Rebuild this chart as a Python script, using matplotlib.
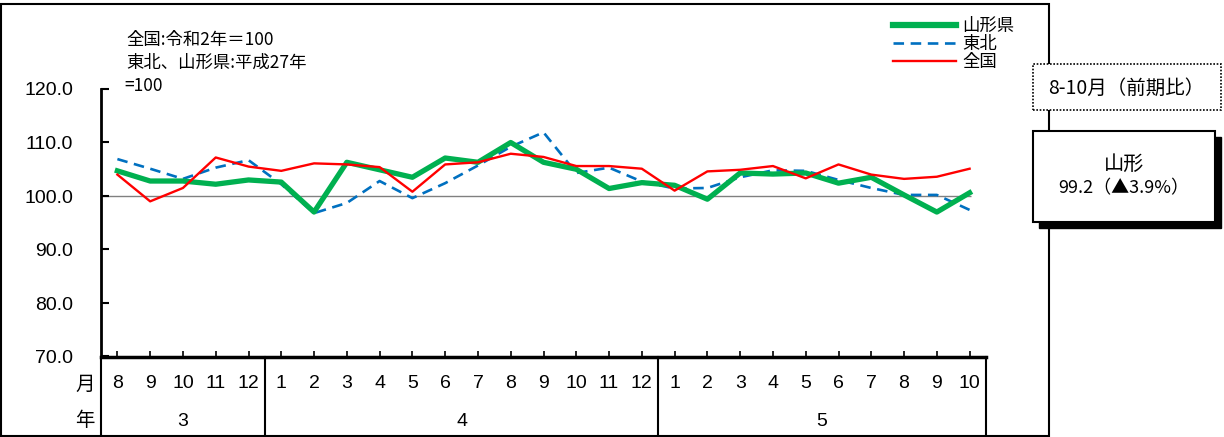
import numpy as np
import matplotlib
matplotlib.use('Agg')
import matplotlib.pyplot as plt
from matplotlib.patches import Rectangle
from matplotlib.lines import Line2D
import matplotlib.transforms as mtransforms

plt.rcParams['font.family'] = ['Noto Sans CJK JP', 'DejaVu Sans']

# data
months = ['8', '9', '10', '11', '12',
          '1', '2', '3', '4', '5', '6', '7', '8', '9', '10', '11', '12',
          '1', '2', '3', '4', '5', '6', '7', '8', '9', '10']
years = ['3', '4', '5']
year_span = [(0, 4), (5, 16), (17, 26)]

yamagata = [104.7, 102.8, 102.8, 102.2, 103.0, 102.6, 97.0, 106.3, 104.9, 103.5,
            107.1, 106.3, 110.0, 106.3, 105.0, 101.4, 102.5, 102.0, 99.4, 104.3,
            104.1, 104.3, 102.4, 103.5, 100.2, 97.0, 100.6]
tohoku = [106.9, 105.1, 103.2, 105.3, 106.7, 102.2, 96.8, 98.7, 102.8, 99.6,
          102.4, 105.7, 109.2, 111.9, 104.3, 105.3, 102.7, 101.4, 101.5, 103.5,
          104.8, 104.7, 103.0, 101.5, 100.2, 100.2, 97.4]
zenkoku = [104.0, 99.0, 101.5, 107.2, 105.5, 104.7, 106.1, 105.9, 105.4, 100.8,
           105.9, 106.3, 107.9, 107.3, 105.6, 105.6, 105.1, 101.0, 104.6, 104.9,
           105.6, 103.3, 105.9, 104.0, 103.2, 103.6, 105.1]

W, H = 1224, 437
fig = plt.figure(figsize=(W / 100, H / 100), dpi=100)

def fx(x):
    return x / W

def fy(y):
    return 1 - y / H

ax_l, ax_r, ax_t, ax_b = 101, 986, 89, 356.5
ax = fig.add_axes([fx(ax_l), fy(ax_b), fx(ax_r - ax_l), (ax_b - ax_t) / H])

x = np.arange(len(months))
ax.hlines(100, -0.5, len(months) - 0.95, color='#808080', lw=1.0, zorder=1)
ax.plot(x, zenkoku, color='#FF0000', lw=1.7, zorder=3, label='全国')
ax.plot(x, tohoku, color='#0070C0', lw=1.9, ls=(0, (4, 2.5)), zorder=2, label='東北')
ax.plot(x, yamagata, color='#00B050', lw=3.8, zorder=2, label='山形県')

ax.set_xlim(-0.5, len(months) - 0.5)
ax.set_ylim(70, 120)
ax.set_yticks(np.arange(70, 121, 10))
ax.set_yticklabels([f'{v:.1f}' for v in np.arange(70, 121, 10)],
                   family=['Liberation Sans', 'DejaVu Sans'], fontsize=14)
ax.tick_params(axis='y', direction='in', length=6, width=1.5, pad=20)
ax.set_xticks(x)
ax.set_xticklabels([])
ax.tick_params(axis='x', direction='in', length=4, width=1.2)
for s in ['top', 'right']:
    ax.spines[s].set_visible(False)
ax.spines['left'].set_linewidth(2)
ax.spines['bottom'].set_linewidth(2.5)

# table below the axis
trans = mtransforms.blended_transform_factory(ax.transData, ax.transAxes)
tab_bottom = -(436 - ax_b) / (ax_b - ax_t)
for xb in [-0.5, 4.5, 16.5, len(months) - 0.5]:
    ax.add_line(Line2D([xb, xb], [0, tab_bottom], transform=trans, color='black',
                       lw=1.5, clip_on=False))
y_month = -(384 - ax_b) / (ax_b - ax_t)
y_year = -(422 - ax_b) / (ax_b - ax_t)
for i, m in enumerate(months):
    ax.text(i, y_month, m, transform=trans, ha='center', va='center', fontsize=14,
            family=['Liberation Sans Narrow', 'Liberation Sans', 'DejaVu Sans'])
for (a, b), yr in zip(year_span, years):
    ax.text((a + b) / 2, y_year, yr, transform=trans, ha='center', va='center', fontsize=14,
            family=['Liberation Sans Narrow', 'Liberation Sans', 'DejaVu Sans'])
fig.text(fx(95), fy(384), '月', ha='right', va='center', fontsize=14)
fig.text(fx(95), fy(420), '年', ha='right', va='center', fontsize=14)

# base year note
fig.text(fx(126), fy(40), '全国:令和2年＝100', ha='left', va='center', fontsize=12.5)
fig.text(fx(126), fy(63), '東北、山形県:平成27年', ha='left', va='center', fontsize=12.5)
fig.text(fx(124), fy(86), '=100', ha='left', va='center', fontsize=12.5)

# legend
handles, labels = ax.get_legend_handles_labels()
order = [2, 1, 0]
leg = fig.legend([handles[i] for i in order], [labels[i] for i in order],
                 loc='upper left', bbox_to_anchor=(fx(893), fy(17)),
                 frameon=False, fontsize=12.5, handlelength=3.6, handletextpad=0.4,
                 labelspacing=0.0, borderpad=0, borderaxespad=0)
leg.get_lines()[0].set_linewidth(4.5)

# outer frame
fig.patches.append(Rectangle((fx(1), fy(436)), fx(1049 - 1), (436 - 4) / H,
                             transform=fig.transFigure, fill=False, ec='black', lw=1.5,
                             zorder=0))

# right side boxes
fig.patches.append(Rectangle((fx(1033), fy(110)), fx(1221 - 1033), (110 - 64) / H,
                             transform=fig.transFigure, fc='white', ec='black', lw=1.2,
                             ls=(0, (1, 1)), zorder=5))
fig.text(fx(1126), fy(88), '8-10月（前期比）', ha='center', va='center', fontsize=14, zorder=6)

fig.patches.append(Rectangle((fx(1039), fy(228)), fx(1215 - 1033), (222 - 131) / H,
                             transform=fig.transFigure, fc='black', ec='black', lw=1,
                             zorder=5))
fig.patches.append(Rectangle((fx(1033), fy(222)), fx(1215 - 1033), (222 - 131) / H,
                             transform=fig.transFigure, fc='white', ec='black', lw=1.5,
                             zorder=5))
fig.text(fx(1124), fy(164), '山形', ha='center', va='center', fontsize=14.5, zorder=6)
fig.text(fx(1124), fy(188), '99.2（▲3.9%）', ha='center', va='center', fontsize=13, zorder=6)

fig.savefig('out.png', dpi=100)
